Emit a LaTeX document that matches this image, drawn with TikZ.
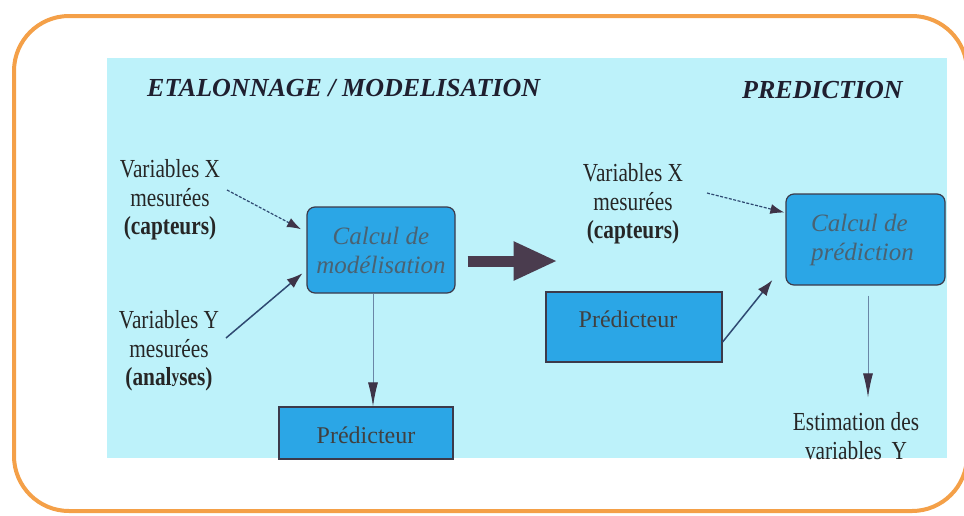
\documentclass[tikz,border=0pt]{standalone}
\usepackage{fontspec}
\setmainfont{Liberation Serif}
\newfontfamily\cond[FakeStretch=0.82]{Liberation Serif}
\usetikzlibrary{arrows.meta,calc}
\definecolor{orangeb}{HTML}{F4A048}
\definecolor{panel}{HTML}{BDF2FA}
\definecolor{boxblue}{HTML}{2BA6E6}
\definecolor{boxedge}{HTML}{3C3A4A}
\definecolor{boxtxt}{HTML}{4A6272}
\definecolor{arrowc}{HTML}{2F4A72}
\definecolor{tipc}{HTML}{3E3448}
\definecolor{bigc}{HTML}{4A3C4E}
\definecolor{downc}{HTML}{6A86A6}
\definecolor{titlec}{HTML}{1F1F2F}
\begin{document}
\begin{tikzpicture}[x=1pt,y=-1pt,
  lbl/.style={font=\cond\fontsize{26}{28.5}\selectfont, align=center, inner sep=0pt, text=black!85},
  ttl/.style={font=\bfseries\itshape\fontsize{26}{30}\selectfont, text=titlec, inner sep=0pt, anchor=base west},
  calcbox/.style={draw=boxedge, fill=boxblue, line width=1.2pt, rounded corners=8pt,
    font=\itshape\fontsize{25}{29}\selectfont, text=boxtxt, align=center, inner sep=0pt},
  predbox/.style={draw=boxedge, fill=boxblue, line width=1.2pt,
    font=\fontsize{24}{28}\selectfont, text=black!75, inner sep=0pt},
  dasharr/.style={draw=arrowc, line width=1.2pt, dash pattern=on 3pt off 1.5pt,
    -{Latex[length=14pt,width=10pt,color=tipc]}},
  solidarr/.style={draw=arrowc, line width=1.5pt, -{Latex[length=16pt,width=11pt,color=tipc]}},
  downarr/.style={draw=downc, line width=1pt, -{Latex[length=24pt,width=10pt,color=tipc]}},
  bigarr/.style={draw=bigc, line width=11pt, -{Triangle[length=44pt,width=36pt,color=bigc]}}
]
\useasboundingbox (0,0) rectangle (964,515);
\fill[white] (0,0) rectangle (964,515);
\draw[orangeb, line width=4pt, rounded corners=55pt] (14,16) rectangle (967,511);
\fill[panel] (107,58) rectangle (947,458);

% titles
\node[ttl] (t1) at (147,96) {ETALONNAGE / MODELISATION};
\node[ttl] (t2) at (742,98) {PREDICTION};

% boxes
\node[calcbox, minimum width=148pt, minimum height=86pt] (calc1) at (381,250) {Calcul de\\modélisation};
\node[calcbox, align=left, minimum width=159pt, minimum height=91pt] (calc2) at (865.5,239.5) {\hspace*{-6pt}Calcul de\\\hspace*{-6pt}prédiction};
\node[predbox, minimum width=174pt, minimum height=52pt, text height=20pt, text depth=0pt] (pred1) at (366,433) {Prédicteur};
\node[predbox, minimum width=176pt, minimum height=70pt, text height=12pt, text depth=12pt] (pred2) at (634,327) {\hspace*{-12pt}Prédicteur};

% labels
\node[lbl] (varx1) at (170,200) {Variables X\\mesurées\\\textbf{(capteurs)}};
\node[lbl] (vary1) at (169,351) {Variables Y\\mesurées\\\textbf{(anal\raisebox{3pt}{\fontsize{19}{19}\selectfont y}ses)}};
\node[lbl] (varx2) at (633,204) {Variables X\\mesurées\\\textbf{(capteurs)}};
\node[lbl] (est) at (856,436) {Estimation des\\variables\, Y};

% connectors
\coordinate (xa) at (227,190);
\coordinate (ya) at (226,338);
\coordinate (xb) at (707,193);
\draw[dasharr, shorten >=6pt] (xa) -- ($(calc1.west)+(0,-18)$);
\draw[solidarr, shorten >=5pt] (ya) -- ($(calc1.west)+(0,20)$);
\draw[downarr] ($(calc1.south)+(-8,0)$) -- ($(pred1.north)+(7,0)$);
\draw[bigarr] ($(calc1.east)+(12,11)$) -- ++(90,0);
\draw[dasharr] (xb) -- ($(calc2.west)+(-1,-27)$);
\draw[solidarr] ($(pred2.east)+(0,15)$) -- ($(calc2.west)+(-13,40.5)$);
\draw[downarr] ($(calc2.south)+(2.5,10)$) -- ($(est.north)+(12,-15)$);
\end{tikzpicture}
\end{document}
